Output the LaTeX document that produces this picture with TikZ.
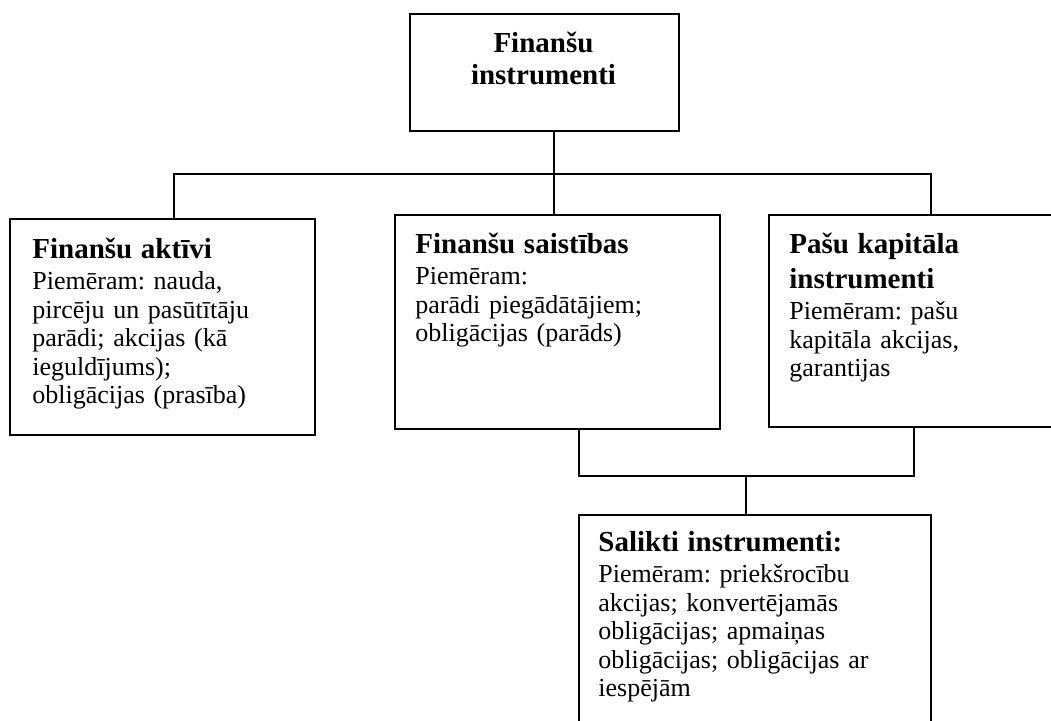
\documentclass[tikz,border=0pt]{standalone}
\usepackage{fontspec}
\setmainfont{Liberation Serif}
\frenchspacing
\newcommand\hdfont{\fontsize{14.5pt}{17.5pt}\selectfont\bfseries}
\newcommand\tpfont{\fontsize{14.5pt}{16pt}\selectfont\bfseries}
\newcommand\bdfont{\fontsize{13pt}{14.25pt}\selectfont}
% bold heading line of a box, followed by a small gap
\newcommand\boxhead[1]{{\hdfont #1\par}\vspace{1.5pt}}
\begin{document}
\begin{tikzpicture}[x=0.5pt,y=-0.5pt,
  box/.style={draw, line width=1pt, inner sep=0pt, anchor=north west},
  txt/.style={inner sep=0pt, anchor=base west, align=left, text width=170pt, font=\bdfont},
  link/.style={line width=1pt}]
  \useasboundingbox (0,0) rectangle (1051,720);
  \clip (0,0) rectangle (1051,720);

  % boxes
  \node[box, minimum width=134.5pt, minimum height=58.5pt] (top) at (409,13) {};
  \node[box, minimum width=152.5pt, minimum height=108pt] (assets) at (9,218) {};
  \node[box, minimum width=162.5pt, minimum height=107pt] (liab) at (394,214) {};
  \node[box, minimum width=150pt, minimum height=106pt] (equity) at (768,214) {};
  \node[box, minimum width=176pt, minimum height=123pt] (compound) at (578,514) {};

  % texts
  \node[inner sep=0pt, anchor=base, align=center, text width=130pt, font=\tpfont] (top-t) at (543.5,52)
    {Finanšu\\instrumenti};
  \node[txt] (assets-t) at (32,258)
    {\boxhead{Finanšu aktīvi}
     Piemēram: nauda,\\pircēju un pasūtītāju\\parādi; akcijas (kā\\ieguldījums);\\obligācijas (prasība)};
  \node[txt] (liab-t) at (415,253)
    {\boxhead{Finanšu saistības}
     Piemēram:\\parādi piegādātājiem;\\obligācijas (parāds)};
  \node[txt] (equity-t) at (789,253)
    {\boxhead{Pašu kapitāla\\instrumenti}
     Piemēram: pašu\\kapitāla akcijas,\\garantijas};
  \node[txt] (compound-t) at (598,551)
    {\boxhead{Salikti instrumenti:}
     Piemēram: priekšrocību\\akcijas; konvertējamās\\obligācijas; apmaiņas\\obligācijas; obligācijas ar\\iespējām};

  % upper connectors
  \coordinate (busL) at (174,174);
  \coordinate (busM) at (554,174);
  \coordinate (busR) at (931,174);
  \draw[link] (top.south -| busM) -- (liab.north -| busM);
  \draw[link] (assets.north -| busL) -- (busL) -- (busR) -- (equity.north -| busR);

  % lower connectors
  \coordinate (lowM) at (579,476);
  \coordinate (lowC) at (746,476);
  \coordinate (lowR) at (914,476);
  \draw[link] (liab.south -| lowM) -- (lowM) -- (lowR) -- (equity.south -| lowR);
  \draw[link] (lowC) -- (compound.north -| lowC);
\end{tikzpicture}
\end{document}
